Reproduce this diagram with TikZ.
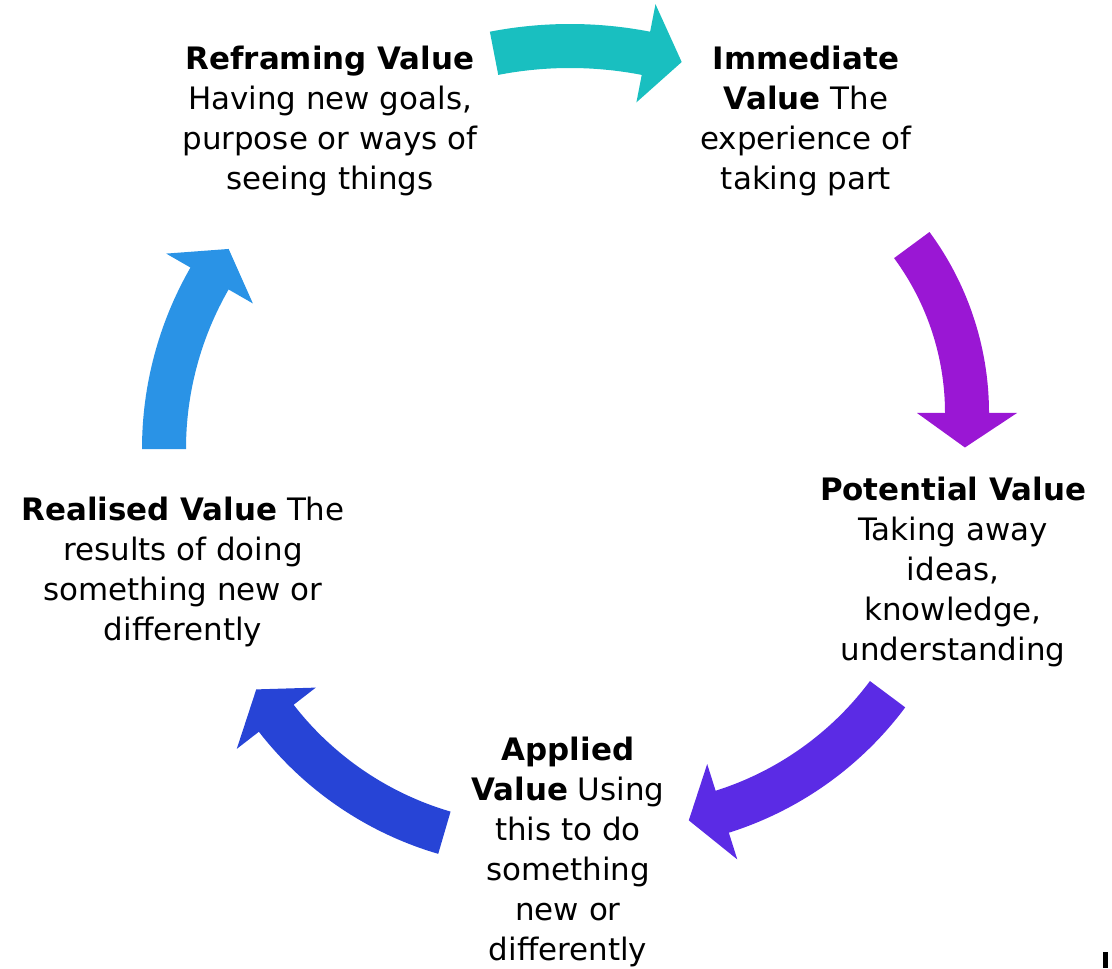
\documentclass[tikz,border=0pt]{standalone}
\usepackage{fontspec}
\setmainfont{DejaVu Sans}
\usetikzlibrary{calc}

\definecolor{tealarrow}{HTML}{19BFC0}
\definecolor{purplearrow}{HTML}{9A17D4}
\definecolor{violetarrow}{HTML}{5B2BE5}
\definecolor{bluearrow}{HTML}{2744D6}
\definecolor{skyarrow}{HTML}{2A93E6}

% curved block arrow: colour, centre, mid radius, tail angle, head angle, tip angle
\newcommand{\valuearrow}[6]{%
  \fill[#1] ($(#2)+(#4:#3+22)$) arc[start angle=#4, end angle=#5, radius=#3+22]
    -- ($(#2)+(#5:#3+50)$) -- ($(#2)+(#6:#3)$) -- ($(#2)+(#5:#3-50)$)
    -- ($(#2)+(#5:#3-22)$) arc[start angle=#5, end angle=#4, radius=#3-22] -- cycle;}

\begin{document}
\begin{tikzpicture}[
    x=0.02cm, y=0.02cm,
    stage/.style={align=center, inner sep=0pt, font=\fontsize{17.6pt}{22.8pt}\selectfont}
]
    \useasboundingbox (0,0) rectangle (1112,968);

    % Stages
    \node[stage] (reframing) at (330,847) {\textbf{Reframing Value}\\Having new goals,\\purpose or ways of\\seeing things};
    \node[stage] (immediate) at (806,847) {\textbf{Immediate}\\\textbf{Value} The\\experience of\\taking part};
    \node[stage] (potential) at (953,396) {\textbf{Potential Value}\\Taking away\\ideas,\\knowledge,\\understanding};
    \node[stage] (applied) at (568,116) {\textbf{Applied}\\\textbf{Value} Using\\this to do\\something\\new or\\differently};
    \node[stage] (realised) at (183,396) {\textbf{Realised Value} The\\results of doing\\something new or\\differently};

    % Arrows round the cycle
    \valuearrow{tealarrow}{570,524}{398}{101}{79}{73.7}
    \valuearrow{purplearrow}{684,555}{283}{36.4}{0}{-7}
    \valuearrow{violetarrow}{623,471}{330}{-36.7}{-72.5}{-78.5}
    \valuearrow{bluearrow}{537,452}{330}{253.7}{217.8}{211.7}
    \valuearrow{skyarrow}{506,519}{342}{180}{150.1}{144.2}

    \fill (1103,0) rectangle (1108,16);
\end{tikzpicture}
\end{document}
